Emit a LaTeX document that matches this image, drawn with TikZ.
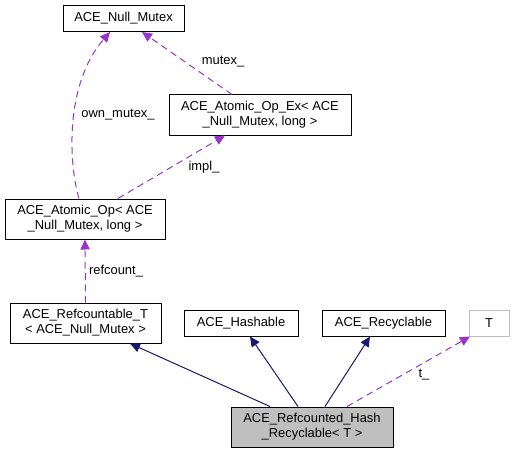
\documentclass[tikz,border=0pt]{standalone}
\usepackage{fontspec}
\setmainfont{Liberation Sans}
\usetikzlibrary{arrows.meta}
\definecolor{edgeblue}{HTML}{191970}
\definecolor{edgepurple}{HTML}{9A32CD}
\definecolor{boxgrey}{HTML}{BFBFBF}
\begin{document}
\begin{tikzpicture}[x=0.75pt,y=-0.75pt,
        font=\fontsize{9.7}{11.2}\selectfont,
        classbox/.style={draw=black,line width=0.75pt,fill=white,align=center,inner sep=1pt,minimum height=19.5pt},
        twoline/.style={classbox,minimum height=30pt},
        inherit/.style={edgeblue,line width=0.75pt,-{Triangle[length=7.5pt,width=7pt]}},
        member/.style={edgepurple,line width=0.75pt,dash pattern=on 5pt off 3.5pt,-{Triangle[length=7.5pt,width=7pt]}},
        lbl/.style={inner sep=0pt}]
    \useasboundingbox (0,0) rectangle (514,453);
    % classes
    \node[classbox,minimum width=90.75pt] (nullmutex) at (123.5,18.5) {ACE\_Null\_Mutex};
    \node[twoline,minimum width=136.5pt] (atomicopex) at (260,115) {ACE\_Atomic\_Op\_Ex< ACE\\\_Null\_Mutex, long >};
    \node[twoline,minimum width=120pt] (atomicop) at (85,219) {ACE\_Atomic\_Op< ACE\\\_Null\_Mutex, long >};
    \node[twoline,minimum width=113.25pt] (refcountable) at (85.5,323) {ACE\_Refcountable\_T\\< ACE\_Null\_Mutex >};
    \node[classbox,minimum width=85.5pt] (hashable) at (241,323) {ACE\_Hashable};
    \node[classbox,minimum width=92.25pt] (recyclable) at (383.5,323) {ACE\_Recyclable};
    \node[classbox,draw=boxgrey,minimum width=30pt] (tparam) at (489,323) {T};
    \node[twoline,fill=boxgrey,minimum width=121.5pt] (refcounted) at (312,427) {ACE\_Refcounted\_Hash\\\_Recyclable< T >};
    % members
    \draw[member] ([xshift=-4.5pt]atomicop.north) .. controls (69,165) and (64,85) .. ([xshift=-10.1pt]nullmutex.south);
    \node[lbl] (ownmutexlbl) at (118,115) {own\_mutex\_};
    \draw[member] ([xshift=-21pt]atomicopex.north) -- ([xshift=13.9pt]nullmutex.south);
    \node[lbl] (mutexlbl) at (223,62) {mutex\_};
    \draw[member] ([xshift=24.75pt]atomicop.north) -- ([xshift=-26.25pt]atomicopex.south);
    \node[lbl] (impllbl) at (204,167) {impl\_};
    \draw[member] (refcountable.north) -- (atomicop.south);
    \node[lbl] (refcountlbl) at (116,271) {refcount\_};
    \draw[member] ([xshift=26.25pt]refcounted.north) -- ([xshift=-14.25pt]tparam.south);
    \node[lbl] (tlbl) at (424,375) {t\_};
    % bases
    \draw[inherit] ([xshift=-31.5pt]refcounted.north) -- ([xshift=33.4pt]refcountable.south);
    \draw[inherit] ([xshift=-10.5pt]refcounted.north) -- ([xshift=6.75pt]hashable.south);
    \draw[inherit] ([xshift=9.75pt]refcounted.north) -- ([xshift=-10.1pt]recyclable.south);
\end{tikzpicture}
\end{document}
